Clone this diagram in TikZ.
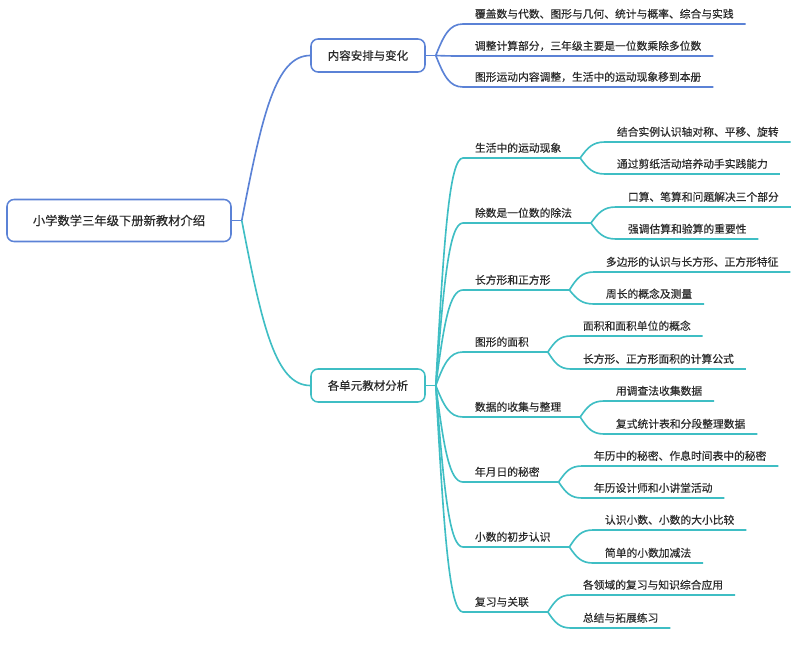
\documentclass[tikz,border=0pt]{standalone}
\usepackage{fontspec}
\setmainfont{Noto Sans CJK SC}[FakeBold=0.4]
\usetikzlibrary{calc}
\definecolor{bl}{HTML}{5B82D6}
\definecolor{tl}{HTML}{3FBEC4}
\definecolor{txt}{HTML}{2B2B2B}
\begin{document}
\begin{tikzpicture}[x=0.03cm, y=-0.03cm, font=\fontsize{9.2pt}{11pt}\selectfont,
  box/.style 2 args={draw=#1, line width=1.3pt, rounded corners=6pt, fill=white,
               text=txt, minimum width=#2, minimum height=0.99cm, align=center},
  item/.style={anchor=south west, inner xsep=10pt, inner ysep=5pt, text depth=0pt, text=txt},
  wire/.style={draw=#1, line width=1.4pt},
  branch/.style={to path={.. controls ($(\tikztostart)!.5!(\tikztostart |- \tikztotarget)!.3!(\tikztotarget)$)
               and ($(\tikztotarget)!.5!(\tikztostart |- \tikztotarget)$) .. (\tikztotarget)}}
]
  \useasboundingbox (0,0) rectangle (794,646);

  \node[box={bl}{6.72cm}, minimum height=1.26cm, font=\fontsize{10.5pt}{12pt}\selectfont]
    (root) at (119,220.5) {小学数学三年级下册新教材介绍};
  \node[box={bl}{3.42cm}, font=\fontsize{9.8pt}{12pt}\selectfont] (b1) at (368,55.5)  {内容安排与变化};
  \node[box={tl}{3.42cm}, font=\fontsize{9.8pt}{12pt}\selectfont] (b2) at (368,385.5) {各单元教材分析};

  \node[item] (t1) at (463,24) {覆盖数与代数、图形与几何、统计与概率、综合与实践};
  \node[item] (t2) at (463,56) {调整计算部分，三年级主要是一位数乘除多位数};
  \node[item] (t3) at (463,87) {图形运动内容调整，生活中的运动现象移到本册};

  \node[item] (s1) at (463,158) {生活中的运动现象};
  \node[item] (s2) at (463,223) {除数是一位数的除法};
  \node[item] (s3) at (463,290) {长方形和正方形};
  \node[item] (s4) at (463,352) {图形的面积};
  \node[item] (s5) at (463,417) {数据的收集与整理};
  \node[item] (s6) at (463,482) {年月日的秘密};
  \node[item] (s7) at (463,547) {小数的初步认识};
  \node[item] (s8) at (463,612) {复习与关联};

  \node[item] (l1a) at (605,142) {结合实例认识轴对称、平移、旋转};
  \node[item] (l1b) at (605,174) {通过剪纸活动培养动手实践能力};
  \node[item] (l2a) at (616,207) {口算、笔算和问题解决三个部分};
  \node[item] (l2b) at (616,239) {强调估算和验算的重要性};
  \node[item] (l3a) at (594,272) {多边形的认识与长方形、正方形特征};
  \node[item] (l3b) at (594,304) {周长的概念及测量};
  \node[item] (l4a) at (571,336) {面积和面积单位的概念};
  \node[item] (l4b) at (571,369) {长方形、正方形面积的计算公式};
  \node[item] (l5a) at (604,401) {用调查法收集数据};
  \node[item] (l5b) at (604,434) {复式统计表和分段整理数据};
  \node[item] (l6a) at (582,466) {年历中的秘密、作息时间表中的秘密};
  \node[item] (l6b) at (582,498) {年历设计师和小讲堂活动};
  \node[item] (l7a) at (593,530) {认识小数、小数的大小比较};
  \node[item] (l7b) at (593,563) {简单的小数加减法};
  \node[item] (l8a) at (571,595) {各领域的复习与知识综合应用};
  \node[item] (l8b) at (571,628) {总结与拓展练习};

  \draw[wire=bl] (root.east) -- ++(10,0) coordinate (r0);
  \draw[wire=bl] (r0) to[branch] (b1.west);
  \draw[wire=tl] (r0) to[branch] (b2.west);

  \draw[wire=bl] (b1.east) -- ++(10,0) coordinate (b1o);
  \draw[wire=bl] (b1o) to[branch] (t1.south west) -- (t1.south east);
  \draw[wire=bl] (b1o) to[branch] (t2.south west) -- (t2.south east);
  \draw[wire=bl] (b1o) to[branch] (t3.south west) -- (t3.south east);

  \draw[wire=tl] (b2.east) -- ++(10,0) coordinate (b2o);
  \draw[wire=tl] (b2o) to[branch] (s1.south west) -- ([xshift=6pt]s1.south east) coordinate (s1o);
  \draw[wire=tl] (b2o) to[branch] (s2.south west) -- ([xshift=6pt]s2.south east) coordinate (s2o);
  \draw[wire=tl] (b2o) to[branch] (s3.south west) -- ([xshift=6pt]s3.south east) coordinate (s3o);
  \draw[wire=tl] (b2o) to[branch] (s4.south west) -- ([xshift=6pt]s4.south east) coordinate (s4o);
  \draw[wire=tl] (b2o) to[branch] (s5.south west) -- ([xshift=6pt]s5.south east) coordinate (s5o);
  \draw[wire=tl] (b2o) to[branch] (s6.south west) -- ([xshift=6pt]s6.south east) coordinate (s6o);
  \draw[wire=tl] (b2o) to[branch] (s7.south west) -- ([xshift=6pt]s7.south east) coordinate (s7o);
  \draw[wire=tl] (b2o) to[branch] (s8.south west) -- ([xshift=6pt]s8.south east) coordinate (s8o);

  \draw[wire=tl] (s1o) to[branch] (l1a.south west) -- (l1a.south east);
  \draw[wire=tl] (s1o) to[branch] (l1b.south west) -- (l1b.south east);
  \draw[wire=tl] (s2o) to[branch] (l2a.south west) -- (l2a.south east);
  \draw[wire=tl] (s2o) to[branch] (l2b.south west) -- (l2b.south east);
  \draw[wire=tl] (s3o) to[branch] (l3a.south west) -- (l3a.south east);
  \draw[wire=tl] (s3o) to[branch] (l3b.south west) -- (l3b.south east);
  \draw[wire=tl] (s4o) to[branch] (l4a.south west) -- (l4a.south east);
  \draw[wire=tl] (s4o) to[branch] (l4b.south west) -- (l4b.south east);
  \draw[wire=tl] (s5o) to[branch] (l5a.south west) -- (l5a.south east);
  \draw[wire=tl] (s5o) to[branch] (l5b.south west) -- (l5b.south east);
  \draw[wire=tl] (s6o) to[branch] (l6a.south west) -- (l6a.south east);
  \draw[wire=tl] (s6o) to[branch] (l6b.south west) -- (l6b.south east);
  \draw[wire=tl] (s7o) to[branch] (l7a.south west) -- (l7a.south east);
  \draw[wire=tl] (s7o) to[branch] (l7b.south west) -- (l7b.south east);
  \draw[wire=tl] (s8o) to[branch] (l8a.south west) -- (l8a.south east);
  \draw[wire=tl] (s8o) to[branch] (l8b.south west) -- (l8b.south east);
\end{tikzpicture}
\end{document}
